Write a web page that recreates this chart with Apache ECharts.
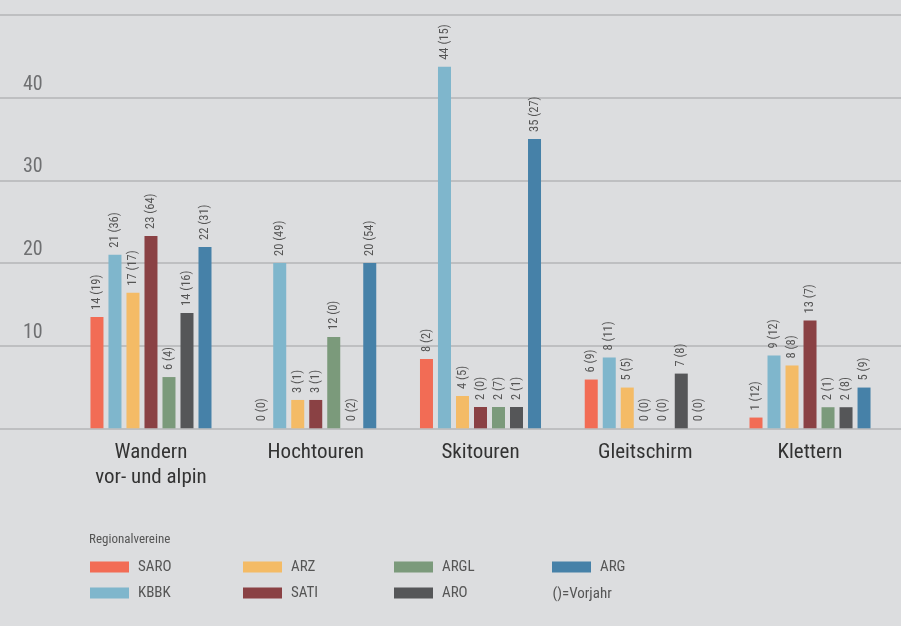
<!DOCTYPE html>
<html>
<head>
<meta charset="utf-8">
<script src="https://cdn.jsdelivr.net/npm/echarts@6/dist/echarts.min.js"></script>
<style>
html,body{margin:0;padding:0;background:#dcdddf;}
#c{width:901px;height:626px;}
</style>
</head>
<body>
<div id="c"></div>
<script>
var categories = ['Wandern\nvor- und alpin', 'Hochtouren', 'Skitouren', 'Gleitschirm', 'Klettern'];
var seriesNames = ['SARO', 'KBBK', 'ARZ', 'SATI', 'ARGL', 'ARO', 'ARG'];

// bar heights
var saro = [13.47, 0, 8.39, 5.9, 1.3];
var kbbk = [21.0, 20.0, 43.74, 8.56, 8.8];
var arz  = [16.4, 3.43, 3.91, 4.93, 7.6];
var sati = [23.28, 3.43, 2.58, 0, 13.05];
var argl = [6.2, 11.05, 2.58, 0, 2.55];
var aro  = [13.96, 0, 2.58, 6.62, 2.55];
var arg  = [21.95, 20.0, 35.02, 0, 4.93];

// printed labels: current (previous year)
var saroCur = [14, 0, 8, 6, 1],   saroPrev = [19, 0, 2, 9, 12];
var kbbkCur = [21, 20, 44, 8, 9], kbbkPrev = [36, 49, 15, 11, 12];
var arzCur  = [17, 3, 4, 5, 8],   arzPrev  = [17, 1, 5, 5, 8];
var satiCur = [23, 3, 2, 0, 13],  satiPrev = [64, 1, 0, 0, 7];
var arglCur = [6, 12, 2, 0, 2],   arglPrev = [4, 0, 7, 0, 1];
var aroCur  = [14, 0, 2, 7, 2],   aroPrev  = [16, 2, 1, 8, 8];
var argCur  = [22, 20, 35, 0, 5], argPrev  = [31, 54, 27, 0, 9];

var yTicks = [0, 10, 20, 30, 40, 50];
var yLabels = ['', '10', '20', '30', '40', ''];

var values = [saro, kbbk, arz, sati, argl, aro, arg];
var curLabels = [saroCur, kbbkCur, arzCur, satiCur, arglCur, aroCur, argCur];
var prevLabels = [saroPrev, kbbkPrev, arzPrev, satiPrev, arglPrev, aroPrev, argPrev];
var colors = ['#f26c55', '#7fb6cc', '#f4bb66', '#8a4144', '#7b9a7b', '#555658', '#4681a8'];

var FONT = '"Roboto Condensed", "Liberation Sans Narrow", "DejaVu Sans Condensed", sans-serif';

var series = seriesNames.map(function (name, si) {
  return {
    name: name,
    type: 'bar',
    xAxisIndex: 0,
    yAxisIndex: 0,
    data: values[si],
    barWidth: 13,
    barGap: '38.5%',
    itemStyle: { color: colors[si] },
    label: {
      show: true,
      position: 'top',
      rotate: 90,
      align: 'left',
      verticalAlign: 'middle',
      distance: 7,
      fontFamily: FONT,
      fontSize: 12.5,
      color: '#555555',
      formatter: function (p) {
        return curLabels[si][p.dataIndex] + ' (' + prevLabels[si][p.dataIndex] + ')';
      }
    }
  };
});

// legend layout: [name, left, top]
var legendPos = [
  ['SARO', 90, 559.5], ['ARZ', 243, 559.5], ['ARGL', 394, 559.5], ['ARG', 552, 559.5],
  ['KBBK', 90, 585.5], ['SATI', 243, 585.5], ['ARO', 394, 585.5]
];
var legends = legendPos.map(function (l) {
  return {
    data: [l[0]],
    left: l[1],
    top: l[2],
    padding: 0,
    icon: 'rect',
    itemWidth: 39,
    itemHeight: 11,
    selectedMode: false,
    textStyle: { fontFamily: FONT, fontSize: 15, color: '#555555', padding: [0, 0, 0, 4] }
  };
});

var chart = echarts.init(document.getElementById('c'), null, { renderer: 'canvas' });
chart.setOption({
  backgroundColor: '#dcdddf',
  animation: false,
  title: {
    text: 'Regionalvereine',
    left: 89,
    top: 533,
    padding: 0,
    textStyle: { fontFamily: FONT, fontSize: 13, fontWeight: 'normal', color: '#555555' }
  },
  legend: legends,
  graphic: [{
    type: 'text',
    left: 552.5,
    top: 586.5,
    style: { text: '()=Vorjahr', font: '15px ' + FONT, fill: '#555555' }
  }],
  grid: [
    { left: 68.6, right: 8.6, top: 15.1, bottom: 197.7 },
    { left: 0, right: 0, top: 15.1, bottom: 197.7 }
  ],
  xAxis: [
    {
      type: 'category',
      gridIndex: 0,
      data: categories,
      axisLine: { show: false },
      axisTick: { show: false },
      axisLabel: {
        fontFamily: FONT,
        fontSize: 21,
        lineHeight: 25,
        color: '#333333',
        margin: 12,
        interval: 0
      }
    },
    { type: 'value', gridIndex: 1, show: false, min: 0, max: 1 }
  ],
  yAxis: [
    {
      type: 'value', gridIndex: 0, min: 0, max: 50, interval: 10, show: false,
      splitLine: { show: false }
    },
    {
      type: 'value', gridIndex: 1, min: 0, max: 50, interval: 10,
      axisLine: { show: false },
      axisTick: { show: false },
      splitLine: { show: true, lineStyle: { color: '#b4b5b7', width: 1.5 } },
      axisLabel: {
        inside: true,
        margin: 23,
        verticalAlign: 'bottom',
        padding: [0, 0, 3, 0],
        fontFamily: FONT,
        fontSize: 20,
        color: '#6f7072',
        formatter: function (v) {
          var i = yTicks.indexOf(v);
          return i >= 0 ? yLabels[i] : '';
        }
      }
    }
  ],
  series: series
});
</script>
</body>
</html>
